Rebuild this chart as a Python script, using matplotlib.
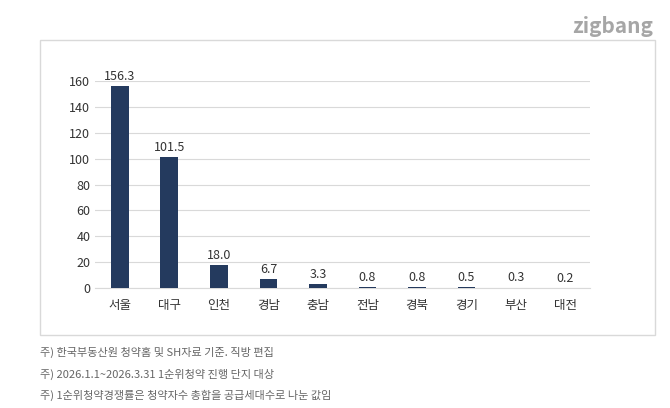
import matplotlib
matplotlib.use("Agg")
import matplotlib.pyplot as plt
from matplotlib.patches import Rectangle

plt.rcParams['font.family'] = ['Noto Sans CJK KR', 'DejaVu Sans']

regions = ['서울', '대구', '인천', '경남', '충남', '전남', '경북', '경기', '부산', '대전']
values = [156.3, 101.5, 18.0, 6.7, 3.3, 0.8, 0.8, 0.5, 0.3, 0.2]
yticks = [0, 20, 40, 60, 80, 100, 120, 140, 160]
notes = ['주) 한국부동산원 청약홈 및 SH자료 기준. 직방 편집',
         '주) 2026.1.1~2026.3.31 1순위청약 진행 단지 대상',
         '주) 1순위청약경쟁률은 청약자수 총합을 공급세대수로 나눈 값임']

fig = plt.figure(figsize=(6.7, 4.08), dpi=100)
fig.patches.append(Rectangle((0.06, 0.179), 0.918, 0.723, transform=fig.transFigure,
                             fill=False, edgecolor='#d9d9d9', linewidth=1))
ax = fig.add_axes([0.142, 0.294, 0.739, 0.507])
x = range(len(regions))
ax.bar(x, values, width=0.36, color='#243a5e', zorder=3)
for i, v in enumerate(values):
    ax.text(i, v + 2.5, f'{v:.1f}', ha='center', va='bottom', fontsize=9, color='#333333')
ax.set_ylim(0, 160)
ax.set_xlim(-0.5, len(regions) - 0.5)
ax.set_yticks(yticks)
ax.set_xticks(list(x))
ax.set_xticklabels(regions)
ax.grid(axis='y', color='#d9d9d9', linewidth=0.8, zorder=0)
for s in ['top', 'right', 'left']:
    ax.spines[s].set_visible(False)
ax.spines['bottom'].set_color('#d9d9d9')
ax.tick_params(length=0, labelsize=9, colors='#333333')
ax.tick_params(axis='x', pad=8)

fig.text(0.975, 0.935, 'zigbang', ha='right', va='center', fontsize=15,
         color='#a6a6a6', fontweight='bold')
for i, n in enumerate(notes):
    fig.text(0.06, 0.135 - i * 0.052, n, fontsize=8, color='#666666', va='center')
fig.savefig('out.png', dpi=100)
